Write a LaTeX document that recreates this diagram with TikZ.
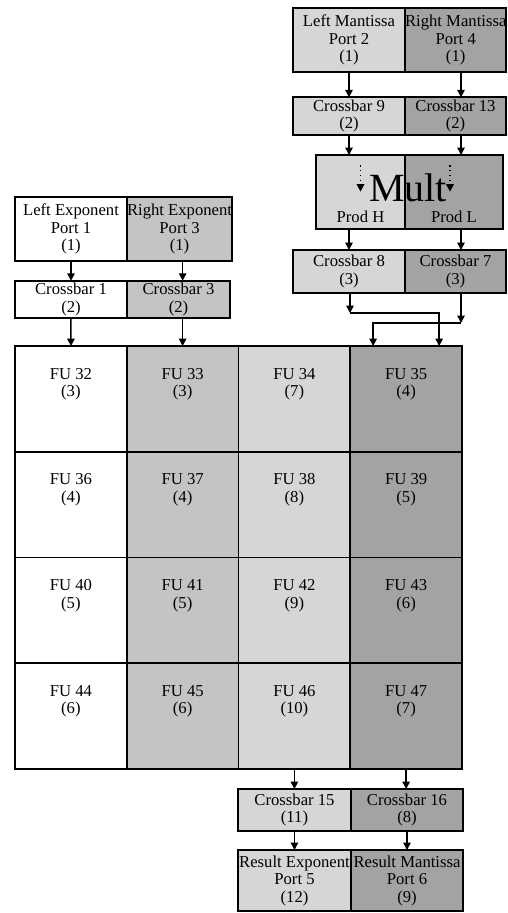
\documentclass[tikz,border=0pt]{standalone}
\usepackage{fontspec}
\setmainfont{Liberation Serif}
\usetikzlibrary{arrows.meta, positioning}
\definecolor{shlight}{gray}{0.84}
\definecolor{shmid}{gray}{0.77}
\definecolor{shdark}{gray}{0.64}

\begin{document}
\begin{tikzpicture}[
  x=0.6pt, y=-0.6pt,
  every node/.style={font=\fontsize{10}{10.5}\selectfont},
  box/.style={rectangle, draw=black, fill=#1, line width=1.1pt, inner sep=0pt, outer sep=0pt, align=center},
  port/.style={box=#1, minimum height=38.4pt},
  xbar/.style={box=#1, minimum height=22.5pt},
  cell/.style={box=#1, minimum width=67.05pt, minimum height=63.45pt},
  fulabel/.style={anchor=north, yshift=-13pt, align=center, inner sep=0pt},
  arrow/.style={-{Triangle[length=4.5pt, width=4.5pt]}, line width=0.9pt},
]
\useasboundingbox (0,0) rectangle (507,913);

% exponent inputs
\node[port=white, minimum width=67.2pt] (lexp) at (71,229) {Left Exponent\\Port 1\\(1)};
\node[port=shmid, minimum width=61.8pt, right=0pt of lexp] (rexp) {Right Exponent\\Port 3\\(1)};
\node[xbar=white, minimum width=67.2pt] (cb1) at (71,299.5) {Crossbar 1\\(2)};
\node[xbar=shmid, minimum width=61.8pt, right=0pt of cb1] (cb3) {Crossbar 3\\(2)};

% mantissa inputs and multiplier
\node[port=shlight, minimum width=67.2pt] (lman) at (349,40) {Left Mantissa\\Port 2\\(1)};
\node[port=shdark, minimum width=60.6pt, right=0pt of lman] (rman) {Right Mantissa\\Port 4\\(1)};
\node[xbar=shlight, minimum width=67.2pt] (cb9) at (349,116) {Crossbar 9\\(2)};
\node[xbar=shdark, minimum width=60.6pt, right=0pt of cb9] (cb13) {Crossbar 13\\(2)};
\node[box=shlight, minimum width=53.4pt, minimum height=44.4pt] (multh) at (360.5,192) {};
\node[box=shdark, minimum width=58.8pt, minimum height=44.4pt, right=0pt of multh] (multl) {};
\node[font=\fontsize{24}{24}\selectfont, inner sep=0pt] (mult) at (408,188) {Mult};
\node[above=0pt of multh.south] (prodh) {Prod H};
\node[above=0pt of multl.south] (prodl) {Prod L};
\node[xbar=shlight, minimum width=67.2pt, minimum height=25.8pt] (cb8) at (349,271.5) {Crossbar 8\\(3)};
\node[xbar=shdark, minimum width=60.6pt, minimum height=25.8pt, right=0pt of cb8] (cb7) {Crossbar 7\\(3)};

% FU grid
\node[cell=white, label={[fulabel]north:FU 32\\(3)}] (fu32) at (70.9,398.9) {};
\node[cell=shmid, right=0pt of fu32, label={[fulabel]north:FU 33\\(3)}] (fu33) {};
\node[cell=shlight, right=0pt of fu33, label={[fulabel]north:FU 34\\(7)}] (fu34) {};
\node[cell=shdark, right=0pt of fu34, label={[fulabel]north:FU 35\\(4)}] (fu35) {};
\node[cell=white, below=0pt of fu32, label={[fulabel]north:FU 36\\(4)}] (fu36) {};
\node[cell=shmid, right=0pt of fu36, label={[fulabel]north:FU 37\\(4)}] (fu37) {};
\node[cell=shlight, right=0pt of fu37, label={[fulabel]north:FU 38\\(8)}] (fu38) {};
\node[cell=shdark, right=0pt of fu38, label={[fulabel]north:FU 39\\(5)}] (fu39) {};
\node[cell=white, below=0pt of fu36, label={[fulabel]north:FU 40\\(5)}] (fu40) {};
\node[cell=shmid, right=0pt of fu40, label={[fulabel]north:FU 41\\(5)}] (fu41) {};
\node[cell=shlight, right=0pt of fu41, label={[fulabel]north:FU 42\\(9)}] (fu42) {};
\node[cell=shdark, right=0pt of fu42, label={[fulabel]north:FU 43\\(6)}] (fu43) {};
\node[cell=white, below=0pt of fu40, label={[fulabel]north:FU 44\\(6)}] (fu44) {};
\node[cell=shmid, right=0pt of fu44, label={[fulabel]north:FU 45\\(6)}] (fu45) {};
\node[cell=shlight, right=0pt of fu45, label={[fulabel]north:FU 46\\(10)}] (fu46) {};
\node[cell=shdark, right=0pt of fu46, label={[fulabel]north:FU 47\\(7)}] (fu47) {};

% result outputs
\node[xbar=shlight, minimum width=67.8pt, minimum height=25.2pt] (cb15) at (294.5,810) {Crossbar 15\\(11)};
\node[xbar=shdark, minimum width=67.2pt, minimum height=25.2pt, right=0pt of cb15] (cb16) {Crossbar 16\\(8)};
\node[port=shlight, minimum width=67.8pt, minimum height=36.6pt] (resexp) at (294.5,880.5) {Result Exponent\\Port 5\\(12)};
\node[port=shdark, minimum width=67.2pt, minimum height=36.6pt, right=0pt of resexp] (resman) {Result Mantissa\\Port 6\\(9)};

% connectors
\coordinate (rline) at (461,0);
\coordinate (j8) at (350,313);
\coordinate (j7) at (461,323);
\draw[arrow] (lexp) -- (cb1);
\draw[arrow] (cb1) -- (fu32);
\draw[arrow] (rexp.south -| fu33.north) -- (cb3.north -| fu33.north);
\draw[arrow] (cb3.south -| fu33.north) -- (fu33.north);
\draw[arrow] (lman) -- (cb9);
\draw[arrow] (rman.south -| rline) -- (cb13.north -| rline);
\draw[arrow] (cb9.south) -- (cb9.south |- multh.north);
\draw[arrow] (cb13.south -| rline) -- (multl.north -| rline);
\draw[arrow, dotted] ([yshift=-6pt]multh.north) -- ([yshift=-22pt]multh.north);
\draw[arrow, dotted] ([xshift=-2.4pt, yshift=-6pt]multl.north) -- ([xshift=-2.4pt, yshift=-22pt]multl.north);
\draw[arrow] (cb8.south |- multh.south) -- (cb8.north);
\draw[arrow] (multl.south -| rline) -- (cb7.north -| rline);
\draw[arrow] (cb8.south -| j8) -- (j8);
\draw[arrow] (cb7.south -| j7) -- (j7);
\draw[arrow] (j8) -| ([xshift=19.8pt]fu35.north);
\draw[arrow] (j7) -| ([xshift=-19.8pt]fu35.north);
\draw[arrow] (fu46.south) -- (fu46.south |- cb15.north);
\draw[arrow] (fu47.south) -- (fu47.south |- cb16.north);
\draw[arrow] (cb15) -- (resexp);
\draw[arrow] (cb16) -- (resman);
\end{tikzpicture}
\end{document}
